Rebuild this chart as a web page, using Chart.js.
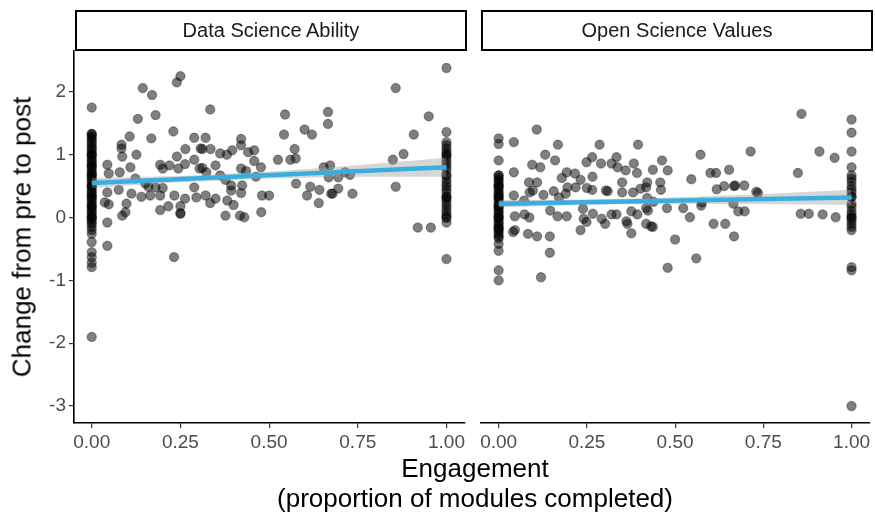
<!DOCTYPE html>
<html>
<head>
<meta charset="utf-8">
<script src="https://cdn.jsdelivr.net/npm/chart.js@4.4.1/dist/chart.umd.min.js"></script>
<style>
  html, body { margin: 0; padding: 0; background: #fff; }
  #wrap { position: relative; width: 875px; height: 517px; font-family: "Liberation Sans", Arial, sans-serif; }
  canvas { position: absolute; top: 0; }
  .strip { position: absolute; top: 10px; height: 37px; border: 2px solid #000; box-sizing: content-box;
           font-size: 20px; line-height: 37px; text-align: center; color: #1a1a1a; }
  .ytitle { position: absolute; left: 22px; top: 237px; transform: translate(-50%, -50%) rotate(-90deg);
            font-size: 26px; white-space: nowrap; color: #000; }
  .xtitle { position: absolute; left: 475px; transform: translateX(-50%); font-size: 26px; white-space: nowrap; color: #000; }
</style>
</head>
<body>
<div id="wrap">
  <canvas id="leftChart" width="470" height="517" style="left:0;width:470px;height:517px"></canvas>
  <canvas id="rightChart" width="405" height="517" style="left:470px;width:405px;height:517px"></canvas>
  <div class="strip" style="left:75px;width:388px">Data Science Ability</div>
  <div class="strip" style="left:481px;width:388px">Open Science Values</div>
  <div class="ytitle">Change from pre to post</div>
  <div class="xtitle" style="top:453px">Engagement</div>
  <div class="xtitle" style="top:483px">(proportion of modules completed)</div>
</div>
<script>
/* ===== data ===== */
const panelNames = ['Data Science Ability', 'Open Science Values'];
const xTicks = [0, 0.25, 0.5, 0.75, 1];
const xTickLabels = ['0.00', '0.25', '0.50', '0.75', '1.00'];
const yTicks = [-3, -2, -1, 0, 1, 2];
const yTickLabels = ['-3', '-2', '-1', '0', '1', '2'];

// Data Science Ability: points that sit on engagement = 0 and = 1
const abilityAtZero = [1.75, 1.33, 1.33, 1.3, 1.27, 1.24, 1.2, 1.17, 1.13, 1.1, 1.07, 1.03, 1.0, 1.0, 0.97, 0.93,
  0.9, 0.87, 0.83, 0.83, 0.8, 0.77, 0.73, 0.7, 0.67, 0.67, 0.63, 0.6, 0.57, 0.53, 0.5, 0.5, 0.47, 0.43, 0.4,
  0.37, 0.33, 0.33, 0.3, 0.27, 0.23, 0.2, 0.17, 0.17, 0.13, 0.1, 0.07, 0.03, 0.0, 0.0, -0.03, -0.07, -0.1,
  -0.15, -0.2, -0.26, -0.39, -0.55, -0.63, -0.72, -0.79, -1.9];
const abilityAtOne = [2.38, 1.36, 1.2, 1.15, 1.1, 1.05, 1.0, 1.0, 0.95, 0.9, 0.85, 0.8, 0.75, 0.67, 0.67, 0.6,
  0.55, 0.5, 0.45, 0.4, 0.33, 0.33, 0.3, 0.25, 0.2, 0.15, 0.1, 0.05, 0.0, 0.0, -0.08, -0.66];
// Data Science Ability: everyone in between [engagement, change]
const abilityMid = [
  [0.25, 2.25], [0.24, 2.15], [0.144, 2.06], [0.17, 1.95], [0.18, 1.63], [0.13, 1.57], [0.23, 1.37],
  [0.107, 1.29], [0.168, 1.26], [0.289, 1.27], [0.084, 1.16], [0.084, 1.1], [0.126, 1.0], [0.086, 0.97],
  [0.264, 1.09], [0.24, 0.97], [0.307, 1.1], [0.044, 0.84], [0.048, 0.7], [0.079, 0.72], [0.109, 0.8],
  [0.193, 0.84], [0.2, 0.78], [0.219, 0.83], [0.244, 0.78], [0.263, 0.85], [0.289, 0.92], [0.304, 0.78],
  [0.123, 0.62], [0.151, 0.54], [0.16, 0.49], [0.18, 0.48], [0.2, 0.47], [0.076, 0.44], [0.044, 0.4],
  [0.112, 0.38], [0.14, 0.33], [0.165, 0.35], [0.193, 0.35], [0.233, 0.35], [0.263, 0.3], [0.289, 0.48],
  [0.295, 0.32], [0.037, 0.24], [0.048, 0.21], [0.098, 0.22], [0.216, 0.18], [0.193, 0.12], [0.25, 0.18],
  [0.095, 0.085], [0.086, 0.03], [0.25, 0.06], [0.25, 0.07], [0.044, -0.08], [0.044, -0.45], [0.232, -0.63],
  [0.334, 1.72], [0.545, 1.64], [0.666, 1.68], [0.666, 1.49], [0.542, 1.32], [0.6, 1.4], [0.621, 1.32],
  [0.321, 1.27], [0.421, 1.25], [0.421, 1.15], [0.312, 1.09], [0.335, 1.09], [0.362, 1.02], [0.381, 1.0],
  [0.396, 1.07], [0.441, 1.04], [0.458, 1.07], [0.572, 1.09], [0.56, 0.92], [0.575, 0.94], [0.525, 0.92],
  [0.458, 0.9], [0.349, 0.83], [0.477, 0.8], [0.421, 0.78], [0.435, 0.74], [0.312, 0.79], [0.323, 0.72],
  [0.362, 0.67], [0.377, 0.6], [0.463, 0.65], [0.654, 0.8], [0.672, 0.83], [0.668, 0.64], [0.393, 0.51],
  [0.424, 0.51], [0.393, 0.43], [0.421, 0.39], [0.576, 0.54], [0.616, 0.49], [0.642, 0.44], [0.321, 0.35],
  [0.349, 0.3], [0.334, 0.23], [0.382, 0.27], [0.4, 0.2], [0.48, 0.35], [0.5, 0.35], [0.607, 0.35],
  [0.64, 0.23], [0.675, 0.38], [0.377, 0.03], [0.418, 0.03], [0.43, 0.005], [0.478, 0.085],
  [0.857, 2.06], [0.95, 1.61], [0.908, 1.32], [0.879, 1.01], [0.849, 0.92], [0.857, 0.49], [0.919, -0.16],
  [0.956, -0.16], [0.735, 0.38], [0.695, 0.46], [0.679, 0.38], [0.714, 0.72], [0.728, 0.68], [0.695, 0.64]
];
const abilityFitX = [0, 1];
const abilityFitY = [0.55, 0.80];
const abilityBandX = [0, 0.25, 0.5, 0.75, 1];
const abilityBandHi = [0.63, 0.66, 0.73, 0.83, 0.95];
const abilityBandLo = [0.47, 0.56, 0.62, 0.65, 0.65];

// Open Science Values
const valuesAtZero = [1.26, 1.17, 0.91, 0.67, 0.67, 0.63, 0.6, 0.57, 0.53, 0.5, 0.5, 0.47, 0.43, 0.4, 0.37,
  0.33, 0.33, 0.3, 0.27, 0.23, 0.2, 0.17, 0.17, 0.13, 0.1, 0.07, 0.03, 0.0, 0.0, -0.03, -0.07, -0.1, -0.13,
  -0.17, -0.17, -0.2, -0.23, -0.27, -0.3, -0.33, -0.42, -0.53, -0.84, -1.0];
const valuesAtOne = [1.56, 1.35, 1.05, 0.8, 0.67, 0.62, 0.57, 0.5, 0.45, 0.4, 0.33, 0.33, 0.22, 0.17, 0.1,
  0.05, 0.0, 0.0, -0.05, -0.1, -0.15, -0.2, -0.79, -0.84, -3.0];
const valuesMid = [
  [0.108, 1.4], [0.043, 1.2], [0.168, 1.16], [0.132, 1.0], [0.16, 0.91], [0.095, 0.84], [0.118, 0.8],
  [0.043, 0.72], [0.286, 1.16], [0.265, 0.96], [0.249, 0.88], [0.29, 0.86], [0.193, 0.72], [0.216, 0.7],
  [0.179, 0.63], [0.232, 0.6], [0.266, 0.65], [0.086, 0.56], [0.109, 0.56], [0.195, 0.48], [0.218, 0.48],
  [0.25, 0.47], [0.265, 0.44], [0.088, 0.4], [0.097, 0.43], [0.156, 0.42], [0.19, 0.38], [0.127, 0.36],
  [0.043, 0.35], [0.304, 0.43], [0.072, 0.27], [0.171, 0.32], [0.146, 0.11], [0.167, 0.02], [0.193, 0.02],
  [0.046, 0.02], [0.073, 0.05], [0.087, 0.0], [0.239, 0.14], [0.241, -0.02], [0.249, -0.07], [0.267, 0.06],
  [0.292, -0.02], [0.232, -0.2], [0.046, -0.2], [0.041, -0.23], [0.083, -0.26], [0.109, -0.3],
  [0.145, -0.3], [0.145, -0.56], [0.12, -0.95],
  [0.395, 1.16], [0.572, 1.0], [0.334, 0.96], [0.463, 0.91], [0.32, 0.86], [0.337, 0.8], [0.383, 0.86],
  [0.36, 0.75], [0.392, 0.71], [0.437, 0.76], [0.479, 0.75], [0.6, 0.71], [0.616, 0.71], [0.653, 0.76],
  [0.546, 0.61], [0.35, 0.56], [0.421, 0.56], [0.418, 0.48], [0.458, 0.56], [0.46, 0.44], [0.402, 0.46],
  [0.639, 0.5], [0.667, 0.5], [0.618, 0.45], [0.309, 0.42], [0.35, 0.4], [0.381, 0.4], [0.421, 0.31],
  [0.439, 0.25], [0.576, 0.24], [0.574, 0.19], [0.665, 0.22], [0.477, 0.15], [0.523, 0.15], [0.542, 0.005],
  [0.418, 0.15], [0.423, 0.11], [0.376, 0.1], [0.393, 0.05], [0.32, 0.05], [0.334, 0.05], [0.302, -0.1],
  [0.362, -0.06], [0.365, -0.1], [0.418, -0.1], [0.432, -0.14], [0.437, -0.15], [0.376, -0.25],
  [0.609, -0.1], [0.642, -0.1], [0.667, -0.3], [0.5, -0.35], [0.56, -0.65], [0.479, -0.8],
  [0.858, 1.65], [0.714, 1.05], [0.909, 1.05], [0.952, 0.95], [0.848, 0.71], [0.67, 0.51], [0.696, 0.51],
  [0.73, 0.41], [0.735, 0.39], [0.679, 0.1], [0.697, 0.1], [0.856, 0.06], [0.879, 0.06], [0.918, 0.05],
  [0.955, 0.005]
];
const valuesFitX = [0, 1];
const valuesFitY = [0.22, 0.32];
const valuesBandX = [0, 0.25, 0.5, 0.75, 1];
const valuesBandHi = [0.28, 0.285, 0.32, 0.375, 0.44];
const valuesBandLo = [0.16, 0.205, 0.22, 0.215, 0.20];

/* ===== helpers ===== */
const FONT = '"Liberation Sans", Arial, sans-serif';
const xy = (xs, ys) => xs.map((x, i) => ({ x, y: ys[i] }));
const column = (x, ys) => ys.map(y => ({ x, y }));
const pairs = arr => arr.map(p => ({ x: p[0], y: p[1] }));

function buildPanel(canvasId, pts, fitX, fitY, bandX, bandHi, bandLo, withYAxis) {
  const ctx = document.getElementById(canvasId).getContext('2d');
  return new Chart(ctx, {
    type: 'scatter',
    data: {
      datasets: [
        {
          data: xy(fitX, fitY), type: 'line', borderColor: '#3aaee0', borderWidth: 4.5,
          pointRadius: 0, fill: false, order: 0
        },
        {
          data: xy(bandX, bandHi), type: 'line', borderWidth: 0, borderColor: 'rgba(0,0,0,0)',
          pointRadius: 0, fill: false, order: 2
        },
        {
          data: xy(bandX, bandLo), type: 'line', borderWidth: 0, borderColor: 'rgba(0,0,0,0)',
          backgroundColor: 'rgba(153,153,153,0.4)', pointRadius: 0, fill: '-1', order: 1
        },
        {
          data: pts, backgroundColor: 'rgba(0,0,0,0.5)', borderColor: 'rgba(0,0,0,0.35)',
          borderWidth: 1.2, pointRadius: 4.6, pointHoverRadius: 4.6, order: 3
        }
      ]
    },
    options: {
      responsive: false,
      animation: false,
      events: [],
      layout: { padding: { top: 51, right: withYAxis ? 5 : 3, left: withYAxis ? 0 : 11, bottom: 0 } },
      plugins: { legend: { display: false }, tooltip: { enabled: false } },
      scales: {
        x: {
          type: 'linear', min: -0.05, max: 1.05,
          afterBuildTicks: s => { s.ticks = xTicks.map(v => ({ value: v })); },
          afterFit: s => { s.height = 94; },
          border: { display: true, color: '#000', width: 1.6 },
          grid: { display: true, drawOnChartArea: false, drawTicks: true, tickLength: 5, color: '#333', lineWidth: 1.2 },
          ticks: {
            padding: 3, color: '#4d4d4d', maxRotation: 0, autoSkip: false,
            font: { size: 19, family: FONT },
            callback: v => xTickLabels[xTicks.indexOf(v)]
          }
        },
        y: {
          type: 'linear', min: -3.27, max: 2.65, display: withYAxis,
          afterBuildTicks: s => { s.ticks = yTicks.map(v => ({ value: v })); },
          afterFit: s => { s.width = withYAxis ? 74 : 0; },
          border: { display: true, color: '#000', width: 1.6 },
          grid: { display: true, drawOnChartArea: false, drawTicks: true, tickLength: 5, color: '#333', lineWidth: 1.2 },
          ticks: {
            padding: 3, color: '#4d4d4d', autoSkip: false,
            font: { size: 19, family: FONT },
            callback: v => yTickLabels[yTicks.indexOf(v)]
          }
        }
      }
    }
  });
}

const abilityPts = [...column(0, abilityAtZero), ...pairs(abilityMid), ...column(1, abilityAtOne)];
const valuesPts = [...column(0, valuesAtZero), ...pairs(valuesMid), ...column(1, valuesAtOne)];

buildPanel('leftChart', abilityPts, abilityFitX, abilityFitY, abilityBandX, abilityBandHi, abilityBandLo, true);
buildPanel('rightChart', valuesPts, valuesFitX, valuesFitY, valuesBandX, valuesBandHi, valuesBandLo, false);
</script>
</body>
</html>
